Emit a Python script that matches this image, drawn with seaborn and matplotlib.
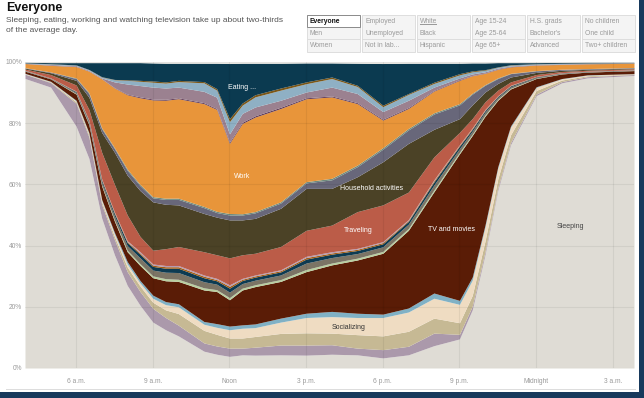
import matplotlib
matplotlib.use("Agg")
import matplotlib.pyplot as plt
import seaborn as sns
from matplotlib.patches import Rectangle

# time of day in hours (4 a.m. -> ~4 a.m. next day)
hours = [4, 5, 6, 6.5, 7, 7.5, 8, 8.5, 9, 9.5, 10, 11, 11.5, 12, 12.5, 13,
         14, 15, 16, 17, 18, 19, 20, 21, 21.5, 22, 22.5, 23, 24, 25, 26, 27.83]

# share of people doing each activity (%), bottom layer first
sleeping = [94.6, 91.8, 79, 68.5, 49, 37, 27, 20.5, 15, 12.5, 10.5, 5.5, 4.5, 3.8, 4.3, 4.2,
            4.3, 4.2, 4.5, 4.3, 3.3, 4.3, 7.3, 9.5, 19, 37, 58, 73, 89, 93.2, 94.8, 95.6]
personal_care = [1.4, 1.5, 7.5, 7, 4.5, 5, 4.5, 4.5, 4.5, 4, 3.5, 2.7, 2.7, 2.7, 2.2, 2.6,
                 3.2, 3.3, 3.1, 2.2, 2.7, 2.8, 4.1, 1.5, 1.2, 1, 0.8, 0.7, 0.5, 0.4, 0.4, 0.3]
relaxing = [0.1, 0.2, 0.5, 0.7, 0.8, 1, 1.5, 1.8, 2, 2.5, 3.8, 4.1, 3.8, 3.3, 3.3, 3.5,
            3.8, 4, 3.8, 4.4, 4.5, 4.9, 4.9, 3.8, 3.5, 3.5, 3, 2.5, 1.2, 0.5, 0.3, 0.15]
socializing = [0.1, 0.1, 0.3, 0.4, 0.5, 0.8, 1, 1, 1.3, 1.7, 2.2, 2, 2.3, 2.7, 3.2, 2.9,
               3.7, 5, 5.4, 5.6, 6, 6.3, 6.5, 6.0, 5, 4.5, 3.5, 2.5, 1, 0.4, 0.2, 0.1]
games = [0.1, 0.1, 0.2, 0.3, 0.3, 0.5, 0.8, 0.8, 1, 1, 1, 0.9, 1.2, 1.2, 1.1, 1.2,
         1.3, 1.4, 1.7, 1.4, 1.1, 1.3, 1.7, 1.3, 1, 0.7, 0.5, 0.4, 0.2, 0.1, 0.1, 0.05]
tv_movies = [0.7, 0.8, 2, 2.6, 4.4, 3.7, 3.2, 4.9, 5.7, 6.8, 7.3, 10.3, 10.5, 8.6, 11.4, 12.2,
             12, 13.6, 15.2, 17.4, 19.9, 25.4, 33.1, 47.9, 46.3, 35.6, 21.7, 12.1, 2.7, 1.5, 0.9, 1.0]
computer = [0.05, 0.05, 0.15, 0.2, 0.3, 0.4, 0.5, 0.6, 0.6, 0.7, 0.7, 0.7, 0.6, 0.7, 0.6, 0.6,
            0.6, 0.7, 0.6, 0.6, 0.6, 0.6, 0.6, 0.5, 0.4, 0.4, 0.3, 0.2, 0.1, 0.05, 0.05, 0.05]
other_leisure = [0.1, 0.1, 0.4, 0.6, 1.0, 1.3, 1.5, 1.9, 1.9, 2.1, 2.2, 2, 1.8, 1.8, 1.5, 1.5,
                 1.5, 2.1, 1.8, 1.5, 1.5, 1.4, 1.6, 1.2, 1, 0.9, 0.6, 0.5, 0.3, 0.15, 0.1, 0.1]
sports = [0.07, 0.07, 0.25, 0.4, 0.6, 0.8, 1, 1.2, 1.2, 1.3, 1.4, 1.3, 1.1, 1.3, 1, 1,
          1, 1.3, 1.1, 1, 1, 0.9, 1, 0.8, 0.6, 0.5, 0.35, 0.3, 0.15, 0.1, 0.07, 0.07]
arts = [0.04, 0.04, 0.1, 0.15, 0.2, 0.3, 0.3, 0.4, 0.4, 0.5, 0.5, 0.5, 0.4, 0.6, 0.4, 0.4,
        0.4, 0.5, 0.4, 0.4, 0.4, 0.3, 0.4, 0.3, 0.3, 0.2, 0.15, 0.1, 0.1, 0.05, 0.04, 0.04]
religion = [0.04, 0.04, 0.1, 0.15, 0.2, 0.2, 0.3, 0.4, 0.4, 0.4, 0.4, 0.4, 0.4, 0.5, 0.3, 0.3,
            0.3, 0.4, 0.4, 0.3, 0.3, 0.3, 0.3, 0.2, 0.2, 0.2, 0.1, 0.1, 0.05, 0.05, 0.04, 0.04]
traveling = [0.4, 1.1, 2, 3.5, 8.7, 9, 8.4, 5, 4.5, 5.5, 6.2, 7.6, 7.7, 8.8, 7.7, 7.1,
             7.6, 8.5, 8.7, 12, 12, 9, 7.5, 4, 3, 2.5, 1.8, 1.1, 0.6, 0.4, 0.3, 0.3]
household = [0.3, 0.6, 1.5, 4, 6.5, 10.5, 13, 15, 15.8, 14.5, 13.6, 12.5, 12.3, 12.4, 11.4, 11.4,
             12.5, 13.7, 12, 11.4, 14.1, 15.9, 9, 4.5, 4.5, 3.2, 2.2, 1.6, 0.7, 0.4, 0.3, 0.2]
caring = [0.1, 0.2, 0.6, 1.2, 1.2, 1.2, 1.6, 1.6, 1.3, 1.6, 1.8, 1.9, 1.5, 1.6, 1.6, 1.8,
          1.7, 1.8, 2.8, 3.3, 4.1, 4.4, 5, 4.5, 3.5, 2.2, 1.6, 1.1, 0.5, 0.3, 0.2, 0.15]
volunteering = [0.05, 0.05, 0.2, 0.3, 0.3, 0.3, 0.4, 0.4, 0.4, 0.4, 0.4, 0.4, 0.4, 0.5, 0.4, 0.4,
                0.4, 0.4, 0.5, 0.5, 0.5, 0.5, 0.4, 0.4, 0.3, 0.2, 0.2, 0.1, 0.1, 0.05, 0.05, 0.05]
work = [1.35, 2.15, 3.7, 7, 16, 19.5, 24.3, 28.3, 31.6, 32, 32.5, 33.6, 33.3, 22.9, 29.5, 30.9,
        30.5, 27.1, 26.6, 20.1, 9, 6.5, 7.1, 7.6, 5.7, 3.7, 2.8, 2.1, 1.8, 1.55, 1.55, 1.4]
education = [0.05, 0.05, 0.05, 0.05, 0.05, 0.1, 0.2, 0.3, 0.3, 0.3, 0.3, 0.3, 0.3, 0.4, 0.4, 0.4,
             0.4, 0.3, 0.3, 0.3, 0.3, 0.3, 0.2, 0.2, 0.1, 0.1, 0.1, 0.1, 0.05, 0.05, 0.05, 0.05]
shopping = [0.05, 0.25, 0.25, 0.25, 0.25, 1.9, 3.3, 3.7, 3.9, 3.7, 3.5, 3.7, 3.7, 2.7, 2.9, 2.9,
            2.3, 1.9, 2.9, 3, 2.5, 2.4, 1.1, 0.6, 0.5, 0.4, 0.3, 0.2, 0.15, 0.15, 0.1, 0.05]
phone_mail = [0.1, 0.2, 0.2, 0.2, 0.3, 0.7, 1.2, 1.4, 1.6, 1.6, 1.8, 2.8, 2.3, 4, 2.7, 3.3,
              3.3, 2.7, 2.8, 2.3, 1.6, 1.9, 1.2, 1, 0.7, 0.5, 0.3, 0.3, 0.2, 0.15, 0.1, 0.05]
misc_care = [0.02, 0.05, 0.05, 0.05, 0.1, 0.1, 0.2, 0.3, 0.4, 0.4, 0.4, 0.4, 0.5, 1, 0.7, 0.7,
             0.7, 0.6, 0.5, 0.4, 0.5, 0.3, 0.4, 0.4, 0.3, 0.2, 0.1, 0.1, 0.05, 0.05, 0.05, 0.05]
eating = [0.18, 0.35, 0.75, 2.25, 4.6, 5.5, 5.6, 5.8, 5.9, 6.1, 5.6, 6, 8.3, 18, 13, 10.3,
          8.1, 6.2, 4.6, 7.2, 13.6, 9.9, 6.2, 3.4, 2.6, 2.2, 1.4, 0.7, 0.35, 0.25, 0.2, 0.1]
other = [0.1, 0.2, 0.2, 0.2, 0.2, 0.2, 0.2, 0.2, 0.3, 0.4, 0.4, 0.4, 0.4, 0.5, 0.4, 0.4,
         0.4, 0.3, 0.3, 0.4, 0.5, 0.4, 0.4, 0.4, 0.3, 0.3, 0.2, 0.2, 0.2, 0.15, 0.1, 0.1]

layers = [sleeping, personal_care, relaxing, socializing, games, tv_movies, computer,
          other_leisure, sports, arts, religion, traveling, household, caring, volunteering,
          work, education, shopping, phone_mail, misc_care, eating, other]
colors = ['#dfdcd5', '#ab99ab', '#c6b994', '#efdcc2', '#80b1c5', '#5a1c06', '#b9cfa0',
          '#7b7465', '#0d3b52', '#a35d12', '#b59ab3', '#bb5c48', '#4b4226', '#68677a',
          '#6e8b7e', '#e8953a', '#5b3553', '#9b8190', '#8fb0c4', '#7b5718', '#0b3a50', '#e8e6e0']

tick_hours = [6, 9, 12, 15, 18, 21, 24, 27]
tick_names = ['6 a.m.', '9 a.m.', 'Noon', '3 p.m.', '6 p.m.', '9 p.m.', 'Midnight', '3 a.m.']
pct_ticks = [0, 20, 40, 60, 80, 100]

sns.set_style('white')
plt.rcParams['font.family'] = ['Liberation Sans', 'DejaVu Sans']

W, H = 644, 398
fig = plt.figure(figsize=(W / 100, H / 100), dpi=100)
fig.patch.set_facecolor('#17395c')
# white card of the blog screenshot
fig.patches.append(Rectangle((0, 1 - 392 / H), 639 / W, 392 / H, transform=fig.transFigure,
                             facecolor='white', edgecolor='none', zorder=0))
fig.patches.append(Rectangle((6 / W, 1 - 390 / H), 630 / W, 0.6 / H, transform=fig.transFigure,
                             facecolor='#dddddd', edgecolor='none', zorder=0))

left, right, top, bottom = 25, 634, 62, 368
ax = fig.add_axes([left / W, 1 - bottom / H, (right - left) / W, (bottom - top) / H])
ax.set_zorder(5)
ax.stackplot(hours, *layers, colors=colors, linewidth=0)

ax.set_xlim(4, 27.83)
ax.set_ylim(0, 100)
ax.set_xticks(tick_hours)
ax.set_xticklabels(tick_names)
ax.set_yticks(pct_ticks)
ax.set_yticklabels([f'{p}%' for p in pct_ticks])
ax.tick_params(length=0, labelsize=4.8, labelcolor='#9a9a9a')
ax.tick_params(axis='x', pad=7)
ax.tick_params(axis='y', pad=2)
ax.grid(True, color='black', alpha=0.06, linewidth=0.8)
ax.set_axisbelow(False)
for s in ax.spines.values():
    s.set_visible(False)

# labels on the areas
lab = dict(fontsize=5.0, ha='center', va='center')
ax.text(12.5, 91.8, 'Eating ...', color='white', **lab)
ax.text(12.5, 62.7, 'Work', color='white', **lab)
ax.text(17.55, 58.5, 'Household activities', color='white', **lab)
ax.text(17.03, 44.8, 'Traveling', color='white', **lab)
ax.text(20.7, 45.1, 'TV and movies', color='white', **lab)
ax.text(16.68, 13.1, 'Socializing', color='#333333', **lab)
ax.text(25.36, 46.1, 'Sleeping', color='#444444', **lab)

# title and subtitle
fig.text(6 / W, 1 - 8.5 / H, 'Everyone', fontsize=9, fontweight='bold', color='#111111',
         ha='left', va='center')
fig.text(6 / W, 1 - 20 / H, 'Sleeping, eating, working and watching television take up about two-thirds',
         fontsize=6.0, color='#555555', ha='left', va='center')
fig.text(6 / W, 1 - 31 / H, 'of the average day.', fontsize=6.0, color='#555555', ha='left', va='center')

# group selector table
table_rows = [['Everyone', 'Employed', 'White', 'Age 15-24', 'H.S. grads', 'No children'],
              ['Men', 'Unemployed', 'Black', 'Age 25-64', "Bachelor's", 'One child'],
              ['Women', 'Not in lab...', 'Hispanic', 'Age 65+', 'Advanced', 'Two+ children']]
col_x = [307, 362, 417, 472, 527, 582]
row_y = [15, 27.3, 39.6]
cw, ch = 53, 12.3
for ci, cx in enumerate(col_x):
    fig.patches.append(Rectangle((cx / W, 1 - (row_y[0] + 3 * ch) / H), cw / W, 3 * ch / H,
                                 transform=fig.transFigure, facecolor='#f4f4f4',
                                 edgecolor='#d9d9d9', linewidth=0.6, zorder=1))
    for ri, ry in enumerate(row_y):
        label = table_rows[ri][ci]
        if ri == 0 and ci == 0:
            fig.patches.append(Rectangle((cx / W, 1 - (ry + ch) / H), cw / W, ch / H,
                                         transform=fig.transFigure, facecolor='white',
                                         edgecolor='#8a8a8a', linewidth=0.7, zorder=2))
            fig.text((cx + 3) / W, 1 - (ry + ch / 2) / H, label, fontsize=4.9,
                     fontweight='bold', color='#111111', ha='left', va='center', zorder=3)
        else:
            if ri > 0:
                fig.patches.append(Rectangle((cx / W, 1 - ry / H), cw / W, 0.5 / H,
                                             transform=fig.transFigure, facecolor='#dddddd',
                                             edgecolor='none', zorder=2))
            fig.text((cx + 3) / W, 1 - (ry + ch / 2) / H, label, fontsize=4.9,
                     color='#9a9a9a', ha='left', va='center', zorder=3)
# underline for the "White" entry
fig.patches.append(Rectangle(((col_x[2] + 3) / W, 1 - (row_y[0] + 9.5) / H), 17 / W, 0.5 / H,
                             transform=fig.transFigure, facecolor='#9a9a9a',
                             edgecolor='none', zorder=3))

fig.savefig('out.png', dpi=100, facecolor=fig.get_facecolor())
